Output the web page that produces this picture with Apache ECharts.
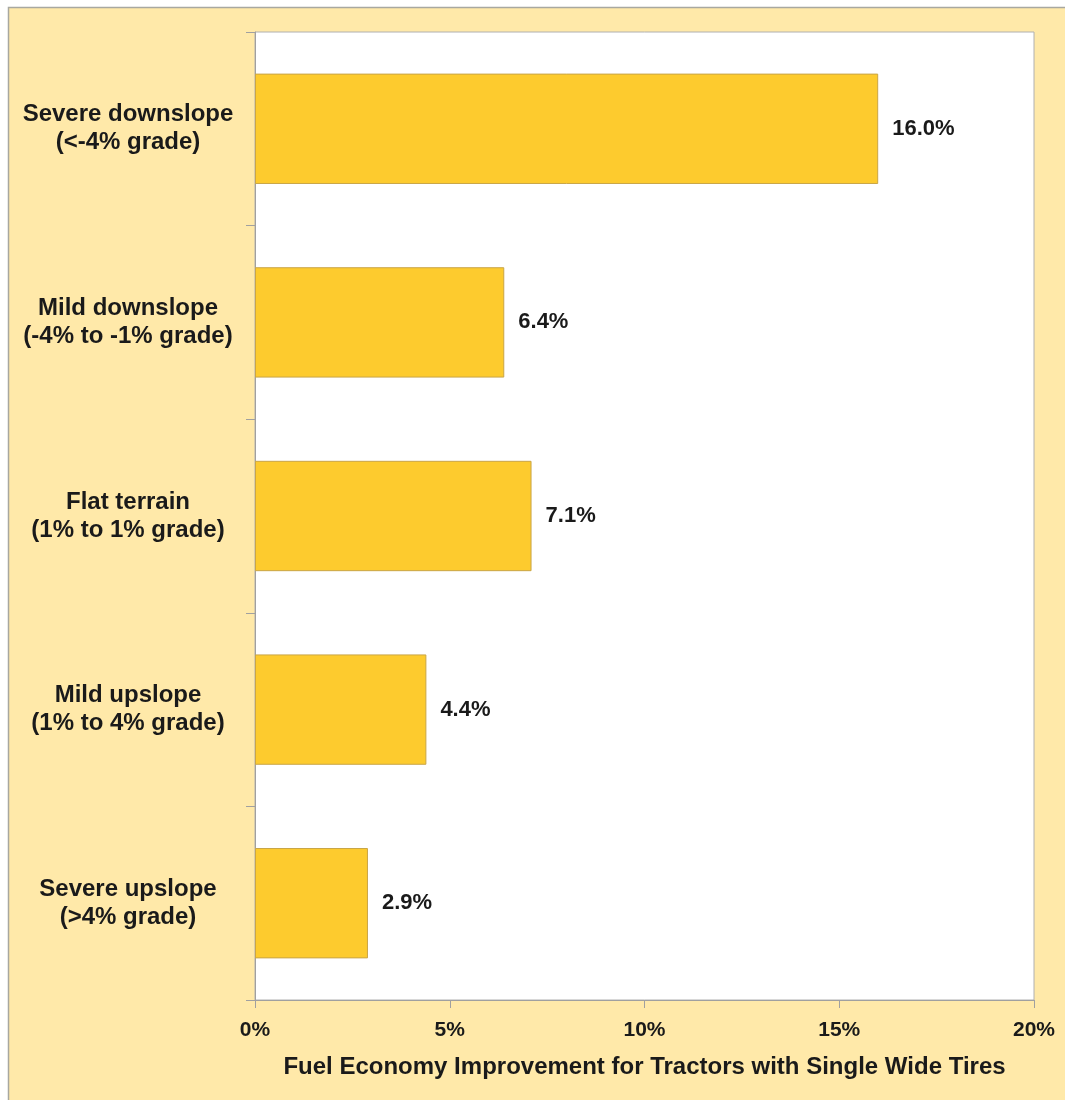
<!DOCTYPE html>
<html>
<head>
<meta charset="utf-8">
<script src="https://cdn.jsdelivr.net/npm/echarts@6/dist/echarts.min.js"></script>
<style>html,body{margin:0;padding:0;background:#fff}#c{width:1065px;height:1100px}</style>
</head>
<body>
<div id="c"></div>
<script>
const categories = [
  "Severe downslope\n(<-4% grade)",
  "Mild downslope\n(-4% to -1% grade)",
  "Flat terrain\n(1% to 1% grade)",
  "Mild upslope\n(1% to 4% grade)",
  "Severe upslope\n(>4% grade)"
];
const values = [16.0, 6.4, 7.1, 4.4, 2.9];
const xTicks = [0, 5, 10, 15, 20];
const axisTitle = "Fuel Economy Improvement for Tractors with Single Wide Tires";

const font = "'Liberation Sans', Arial, sans-serif";
const chart = echarts.init(document.getElementById('c'), null, {renderer: 'canvas'});
chart.setOption({
  backgroundColor: '#ffffff',
  animation: false,
  graphic: [{
    type: 'rect', z: -10, silent: true,
    shape: {x: 8.5, y: 7.5, width: 1070, height: 1100},
    style: {fill: '#FFE9A9', stroke: '#A8A8A0', lineWidth: 1.5}
  }],
  grid: {
    left: 255, right: 31, top: 32, bottom: 100,
    show: true, backgroundColor: '#ffffff', borderColor: '#B0B0B0', borderWidth: 1
  },
  xAxis: {
    type: 'value', min: xTicks[0], max: xTicks[xTicks.length - 1], interval: 5,
    axisLine: {show: true, lineStyle: {color: '#A0A0A0', width: 1}},
    axisTick: {show: true, length: 8, lineStyle: {color: '#A0A0A0'}},
    splitLine: {show: false},
    axisLabel: {formatter: v => v + '%', fontFamily: font, fontWeight: 'bold', fontSize: 21, color: '#1a1a1a', margin: 20},
    name: axisTitle, nameLocation: 'middle', nameGap: 55,
    nameTextStyle: {fontFamily: font, fontWeight: 'bold', fontSize: 24, color: '#1a1a1a'}
  },
  yAxis: {
    type: 'category', data: categories, inverse: true,
    axisLine: {show: true, lineStyle: {color: '#A0A0A0', width: 1}},
    axisTick: {show: true, length: 9, lineStyle: {color: '#A0A0A0'}},
    axisLabel: {fontFamily: font, fontWeight: 'bold', fontSize: 24, lineHeight: 28, color: '#1a1a1a', align: 'center', margin: 127}
  },
  series: [{
    type: 'bar', data: values, barWidth: '57%',
    itemStyle: {color: '#FDCB2E', borderColor: '#C9A546', borderWidth: 1},
    label: {show: true, position: 'right', distance: 14, formatter: p => p.value.toFixed(1) + '%',
      fontFamily: font, fontWeight: 'bold', fontSize: 22, color: '#1a1a1a'}
  }]
});
</script>
</body>
</html>
